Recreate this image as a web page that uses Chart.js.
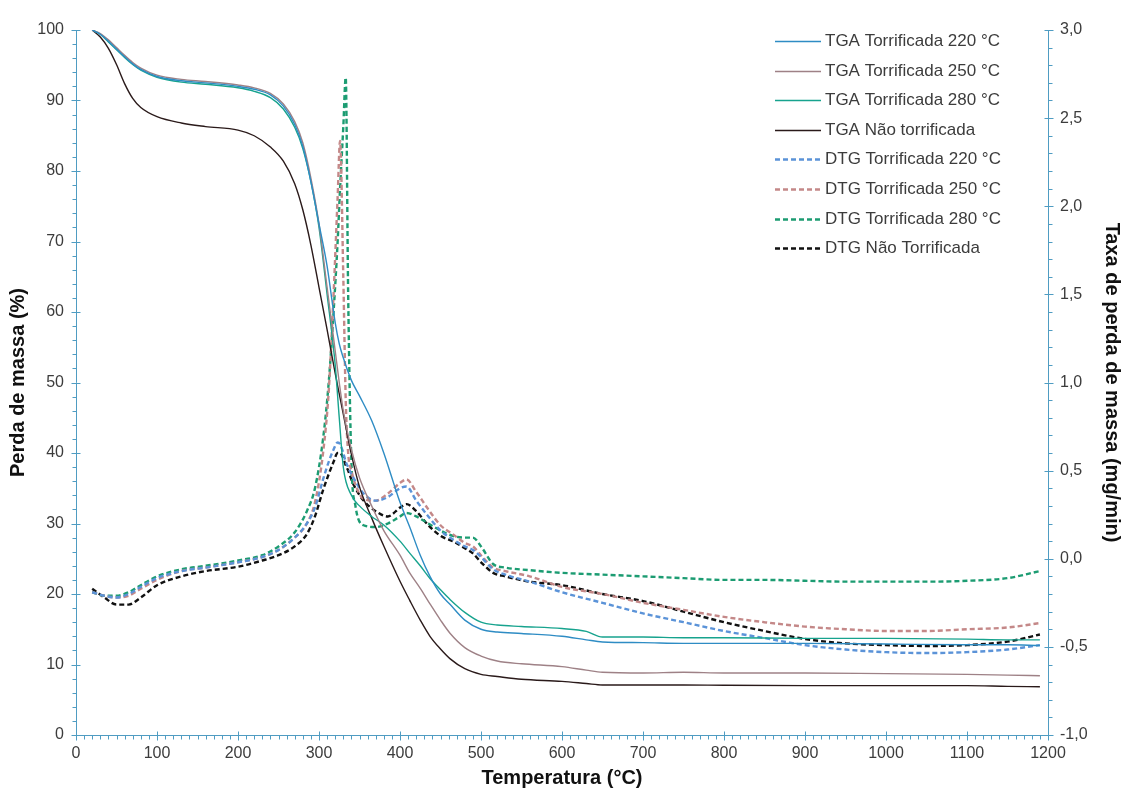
<!DOCTYPE html>
<html>
<head>
<meta charset="utf-8">
<script src="https://cdn.jsdelivr.net/npm/chart.js@4.4.1/dist/chart.umd.min.js"></script>
<style>
  html, body { margin: 0; padding: 0; background: #fff; }
  #wrap { width: 1130px; height: 791px; }
</style>
</head>
<body>
<div id="wrap"><canvas id="tgaChart" width="1130" height="791"></canvas></div>
<script>
// TGA curves (mass %, left axis)
const tgaTemp = [20, 30, 40, 50, 60, 70, 80, 100, 130, 160, 200, 220, 240, 256, 270, 280, 290, 300, 310, 320, 325, 330, 340, 350, 365, 380, 400, 412, 425, 437, 450, 462, 480, 500, 520, 550, 600, 630, 650, 700, 750, 800, 900, 1000, 1100, 1150, 1190];
const tga220 = [100, 99.4, 98.4, 97.3, 96.2, 95.2, 94.4, 93.4, 92.8, 92.5, 92, 91.6, 90.8, 89.2, 86.6, 83.5, 78.5, 72.5, 66.5, 58.5, 55.5, 53.5, 50.3, 48.1, 44.6, 40, 33, 29.5, 25.5, 22.5, 20, 18.5, 16.3, 15, 14.6, 14.4, 14, 13.5, 13.2, 13.1, 13, 13, 13, 12.9, 12.8, 12.8, 12.7];
const tga250 = [100, 99.5, 98.6, 97.5, 96.4, 95.4, 94.6, 93.6, 93, 92.7, 92.2, 91.8, 91, 89.5, 87, 84, 79, 72.5, 63.5, 54.5, 50, 46, 40.5, 36.5, 32.5, 29, 25.5, 23, 20.8, 18.6, 16.3, 14.4, 12.4, 11.2, 10.5, 10.1, 9.7, 9.2, 8.9, 8.8, 8.9, 8.8, 8.8, 8.7, 8.6, 8.5, 8.4];
const tga280 = [100, 99.4, 98.3, 97.2, 96.1, 95.1, 94.3, 93.3, 92.6, 92.3, 91.8, 91.3, 90.4, 88.8, 86.2, 83.2, 78.5, 72, 62.5, 52.5, 45, 38, 34, 32.5, 31, 29.8, 27.5, 25.8, 24, 22.2, 20.6, 19.2, 17.4, 16, 15.6, 15.4, 15.1, 14.7, 13.9, 13.9, 13.8, 13.8, 13.7, 13.7, 13.6, 13.5, 13.5];
const tgaNao = [100, 99, 97.4, 95.1, 92.4, 90.3, 89, 87.7, 86.8, 86.3, 85.8, 85, 83.4, 81.4, 78.2, 74.5, 69.5, 63.5, 57.5, 51.3, 48.4, 45.5, 39.8, 35.2, 30.8, 26.8, 21.8, 19.1, 16.3, 14, 12.2, 10.8, 9.4, 8.6, 8.3, 7.9, 7.6, 7.3, 7.1, 7.1, 7.1, 7.05, 7, 7, 7, 6.9, 6.85];

// DTG curves (mg/min, right axis)
const dtgTemp = [20, 35, 50, 65, 80, 100, 130, 160, 200, 230, 250, 270, 285, 295, 305, 312, 318, 323, 326, 330, 333, 336, 340, 345, 355, 370, 385, 400, 408, 420, 435, 450, 465, 480, 490, 500, 515, 530, 560, 600, 650, 700, 750, 800, 850, 900, 950, 1000, 1050, 1100, 1150, 1190];
const dtg220 = [-0.19, -0.21, -0.22, -0.2, -0.16, -0.11, -0.07, -0.05, -0.02, 0.01, 0.05, 0.12, 0.2, 0.29, 0.45, 0.55, 0.62, 0.66, 0.65, 0.6, 0.55, 0.52, 0.48, 0.44, 0.37, 0.33, 0.35, 0.4, 0.41, 0.33, 0.24, 0.16, 0.11, 0.07, 0.05, 0.01, -0.06, -0.09, -0.13, -0.19, -0.25, -0.31, -0.36, -0.41, -0.45, -0.49, -0.515, -0.53, -0.535, -0.53, -0.515, -0.49];
const dtg250 = [-0.19, -0.21, -0.22, -0.21, -0.17, -0.12, -0.07, -0.05, -0.02, 0.01, 0.05, 0.12, 0.2, 0.32, 0.6, 0.95, 1.5, 2.05, 2.37, 1.6, 0.9, 0.6, 0.5, 0.42, 0.34, 0.33, 0.37, 0.43, 0.45, 0.38, 0.28, 0.19, 0.14, 0.09, 0.07, 0.02, -0.05, -0.07, -0.1, -0.16, -0.2, -0.25, -0.29, -0.33, -0.36, -0.385, -0.4, -0.41, -0.41, -0.4, -0.39, -0.365];
const dtg280 = [-0.19, -0.21, -0.21, -0.19, -0.15, -0.1, -0.06, -0.04, -0.01, 0.02, 0.07, 0.15, 0.27, 0.4, 0.68, 1.0, 1.4, 1.8, 2.1, 2.45, 2.73, 1.5, 0.55, 0.3, 0.19, 0.18, 0.2, 0.24, 0.26, 0.24, 0.2, 0.16, 0.13, 0.12, 0.12, 0.07, -0.03, -0.05, -0.065, -0.08, -0.09, -0.1, -0.11, -0.12, -0.12, -0.125, -0.13, -0.13, -0.13, -0.125, -0.11, -0.07];
const dtgNao = [-0.17, -0.22, -0.26, -0.26, -0.22, -0.15, -0.1, -0.07, -0.045, -0.01, 0.02, 0.07, 0.14, 0.24, 0.39, 0.48, 0.55, 0.6, 0.6, 0.57, 0.53, 0.5, 0.45, 0.4, 0.33, 0.27, 0.24, 0.29, 0.31, 0.27, 0.19, 0.13, 0.1, 0.06, 0.03, -0.02, -0.08, -0.1, -0.13, -0.15, -0.2, -0.24, -0.3, -0.36, -0.41, -0.455, -0.48, -0.49, -0.495, -0.49, -0.47, -0.43];

const axisColor = '#4f9cc2';
const textColor = '#3c3c3c';
const fontFamily = '"Liberation Sans", Arial, sans-serif';

function pairs(xs, ys) {
    return xs.map((t, i) => ({ x: t, y: ys[i] }));
}

function tgaSet(label, values, color) {
    return {
        label: label, data: pairs(tgaTemp, values), yAxisID: 'y',
        borderColor: color, borderWidth: 1.4, borderDash: []
    };
}

function dtgSet(label, values, color) {
    return {
        label: label, data: pairs(dtgTemp, values), yAxisID: 'y2',
        borderColor: color, borderWidth: 2.4, borderDash: [5, 3]
    };
}

// axis lines plus major / minor tick marks
const axesPlugin = {
    id: 'axesTicks',
    beforeDatasetsDraw(chart) {
        const { ctx, chartArea: a, scales } = chart;
        const l = Math.round(a.left) + 0.5, r = Math.round(a.right) + 0.5, b = Math.round(a.bottom) + 0.5;
        ctx.save();
        ctx.strokeStyle = axisColor;
        ctx.lineWidth = 1;
        ctx.beginPath();
        ctx.moveTo(l, a.top); ctx.lineTo(l, b); ctx.lineTo(r, b);
        ctx.moveTo(r, a.top); ctx.lineTo(r, b);
        for (let v = 0; v <= 1200; v += 10) {
            const px = Math.round(scales.x.getPixelForValue(v)) + 0.5;
            const major = v % 100 === 0;
            ctx.moveTo(px, b - (major ? 4 : 0));
            ctx.lineTo(px, b + (major ? 5 : 4));
        }
        for (let v = 0; v <= 100; v += 2) {
            const py = Math.round(scales.y.getPixelForValue(v)) + 0.5;
            const major = v % 10 === 0;
            ctx.moveTo(l - (major ? 5 : 4), py);
            ctx.lineTo(l + (major ? 4 : 0), py);
        }
        for (let k = -10; k <= 30; k += 1) {
            const py = Math.round(scales.y2.getPixelForValue(k / 10)) + 0.5;
            const major = k % 5 === 0;
            ctx.moveTo(r - (major ? 4 : 0), py);
            ctx.lineTo(r + (major ? 5 : 4), py);
        }
        ctx.stroke();
        ctx.restore();
    }
};

// legend inside the plot, top right
const legendPlugin = {
    id: 'insideLegend',
    afterDraw(chart) {
        const { ctx, chartArea: a } = chart;
        const x0 = a.right - 273, y0 = a.top + 11, rowH = 29.6;
        ctx.save();
        ctx.font = '17px ' + fontFamily;
        ctx.textBaseline = 'middle';
        ctx.fillStyle = textColor;
        chart.data.datasets.forEach((ds, i) => {
            const yy = Math.round(y0 + i * rowH) + 0.5;
            ctx.strokeStyle = ds.borderColor;
            ctx.lineWidth = ds.borderWidth;
            ctx.setLineDash(ds.borderDash);
            ctx.beginPath();
            ctx.moveTo(x0, yy);
            ctx.lineTo(x0 + 46, yy);
            ctx.stroke();
            ctx.fillText(ds.label, x0 + 50, yy);
        });
        ctx.restore();
    }
};

const ctx = document.getElementById('tgaChart').getContext('2d');
new Chart(ctx, {
    type: 'line',
    data: {
        datasets: [
            tgaSet('TGA Torrificada 220 °C', tga220, '#2e8cc4'),
            tgaSet('TGA Torrificada 250 °C', tga250, '#9e8186'),
            tgaSet('TGA Torrificada 280 °C', tga280, '#17a38e'),
            tgaSet('TGA Não torrificada', tgaNao, '#2a1a1a'),
            dtgSet('DTG Torrificada 220 °C', dtg220, '#5b93d8'),
            dtgSet('DTG Torrificada 250 °C', dtg250, '#c48888'),
            dtgSet('DTG Torrificada 280 °C', dtg280, '#1c9c72'),
            dtgSet('DTG Não Torrificada', dtgNao, '#111111')
        ]
    },
    options: {
        responsive: false,
        animation: false,
        events: [],
        layout: { padding: { top: 30, left: 0, right: 0, bottom: 0 } },
        elements: {
            point: { radius: 0 },
            line: { cubicInterpolationMode: 'monotone', borderJoinStyle: 'round', borderCapStyle: 'butt' }
        },
        plugins: {
            legend: { display: false },
            tooltip: { enabled: false }
        },
        scales: {
            x: {
                type: 'linear', min: 0, max: 1200,
                grid: { display: false, drawTicks: false },
                border: { display: false },
                ticks: {
                    stepSize: 100, padding: 9, color: textColor,
                    font: { family: fontFamily, size: 16 },
                    maxRotation: 0,
                    callback: v => String(v)
                },
                title: {
                    display: true, text: 'Temperatura (°C)', color: '#111',
                    font: { family: fontFamily, size: 20, weight: 'bold' },
                    padding: { top: 0, bottom: 1 }
                },
                afterFit: s => { s.height = 56; }
            },
            y: {
                type: 'linear', position: 'left', min: 0, max: 100,
                grid: { display: false, drawTicks: false },
                border: { display: false },
                ticks: {
                    stepSize: 10, padding: 12, color: textColor,
                    font: { family: fontFamily, size: 16 },
                    callback: v => String(v)
                },
                title: {
                    display: true, text: 'Perda de massa (%)', color: '#111',
                    font: { family: fontFamily, size: 20, weight: 'bold' },
                    padding: { top: 6, bottom: 0 }
                },
                afterFit: s => { s.width = 76; }
            },
            y2: {
                type: 'linear', position: 'right', min: -1, max: 3,
                grid: { display: false, drawTicks: false },
                border: { display: false },
                ticks: {
                    stepSize: 0.5, padding: 12, color: textColor,
                    font: { family: fontFamily, size: 16 },
                    callback: v => v.toFixed(1).replace('.', ',')
                },
                title: {
                    display: true, text: 'Taxa de perda de massa (mg/min)', color: '#111',
                    font: { family: fontFamily, size: 20, weight: 'bold' },
                    padding: { top: 6, bottom: 0 }
                },
                afterFit: s => { s.width = 82; }
            }
        }
    },
    plugins: [axesPlugin, legendPlugin]
});
</script>
</body>
</html>
